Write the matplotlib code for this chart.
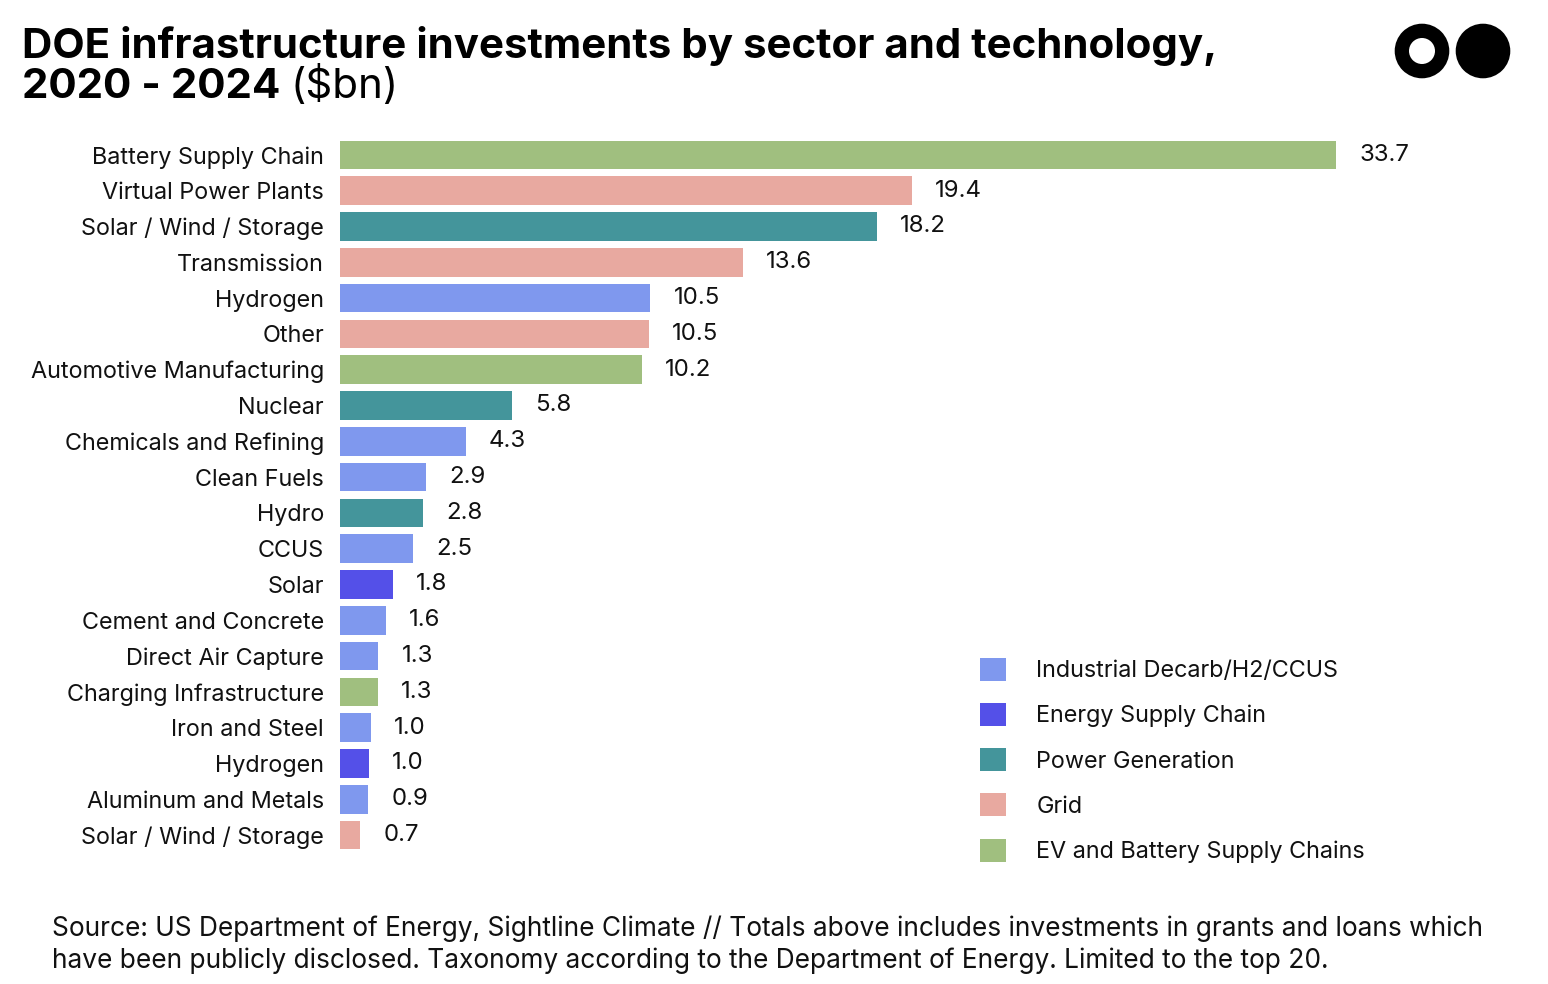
import matplotlib
matplotlib.use("Agg")
import matplotlib.pyplot as plt
from matplotlib.patches import Circle, Patch

plt.rcParams['font.family'] = ['Inter', 'DejaVu Sans']

W = 1548
H = 984

categories = ["Battery Supply Chain", "Virtual Power Plants", "Solar / Wind / Storage", "Transmission",
              "Hydrogen", "Other", "Automotive Manufacturing", "Nuclear", "Chemicals and Refining",
              "Clean Fuels", "Hydro", "CCUS", "Solar", "Cement and Concrete", "Direct Air Capture",
              "Charging Infrastructure", "Iron and Steel", "Hydrogen", "Aluminum and Metals",
              "Solar / Wind / Storage"]
values = [33.7, 19.35, 18.17, 13.63, 10.5, 10.45, 10.2, 5.82, 4.26, 2.91, 2.81, 2.47, 1.79, 1.56,
          1.30, 1.28, 1.04, 0.98, 0.95, 0.68]
value_labels = ["33.7", "19.4", "18.2", "13.6", "10.5", "10.5", "10.2", "5.8", "4.3", "2.9", "2.8", "2.5",
                "1.8", "1.6", "1.3", "1.3", "1.0", "1.0", "0.9", "0.7"]
sectors = ["ev", "grid", "power", "grid", "ind", "grid", "ev", "power", "ind", "ind", "power", "ind",
           "supply", "ind", "ind", "ev", "ind", "supply", "ind", "grid"]

colors = {"ind": "#7F98EE", "supply": "#5450E8", "power": "#44959B", "grid": "#E8A9A0", "ev": "#A0BF7F"}
legend_keys = ["ind", "supply", "power", "grid", "ev"]
legend_names = ["Industrial Decarb/H2/CCUS", "Energy Supply Chain", "Power Generation", "Grid",
                "EV and Battery Supply Chains"]

TEXT = "#111111"
FS = 16.85

fig = plt.figure(figsize=(W / 100, H / 100), dpi=100)
fig.patch.set_facecolor("white")

# axes placed by pixel, 29.56 px per unit and 35.8 px per bar
ax = fig.add_axes([340 / W, 1 - 853 / H, 1160 / W, 716 / H])
ypos = list(range(len(values)))
ax.barh(ypos, values, height=0.8, color=[colors[s] for s in sectors])
ax.set_xlim(0, 1160 / 29.56)
ax.set_ylim(len(values) - 0.5, -0.5)
ax.set_yticks(ypos)
ax.set_yticklabels(categories, fontsize=FS, color=TEXT)
ax.tick_params(axis="y", length=0, pad=11.5)
ax.set_xticks([])
for s in ax.spines.values():
    s.set_visible(False)

for y, v, l in zip(ypos, values, value_labels):
    ax.annotate(l, (v, y), xytext=(16.7, 0), textcoords="offset points", va="center", ha="left",
                fontsize=17.3, color=TEXT)

handles = [Patch(facecolor=colors[k], label=n) for k, n in zip(legend_keys, legend_names)]
leg = ax.legend(handles=handles, loc="lower left", bbox_to_anchor=(973 / W, 1 - 870 / H),
                bbox_transform=fig.transFigure, frameon=False, fontsize=FS, handlelength=1.13,
                handleheight=1.13, handletextpad=1.27, labelspacing=0.89, borderpad=0.3, borderaxespad=0)
for t in leg.get_texts():
    t.set_color(TEXT)

# title, the second line has a bold and a regular part
fig.text(21.5 / W, 1 - 58 / H, "DOE infrastructure investments by sector and technology,",
         fontsize=30.25, fontweight="bold", color="black", va="baseline")
t2 = fig.text(21.5 / W, 1 - 98 / H, "2020 - 2024", fontsize=30.25, fontweight="bold", color="black", va="baseline")
fig.canvas.draw()
bb = t2.get_window_extent()
fig.text((bb.x1 + 11) / W, 1 - 98 / H, "($bn)", fontsize=30.25, fontweight="normal", color="black", va="baseline")

fig.text(52 / W, 1 - 936 / H, "Source: US Department of Energy, Sightline Climate // Totals above includes investments in grants and loans which",
         fontsize=18.95, color=TEXT, va="baseline")
fig.text(52 / W, 1 - 968 / H, "have been publicly disclosed. Taxonomy according to the Department of Energy. Limited to the top 20.",
         fontsize=18.95, color=TEXT, va="baseline")

# logo
logo = fig.add_axes([0, 0, 1, 1], facecolor="none")
logo.set_xlim(0, W)
logo.set_ylim(H, 0)
logo.axis("off")
logo.add_patch(Circle((1422, 51), 27.3, color="black", lw=0))
logo.add_patch(Circle((1422, 51), 13, color="white", lw=0))
logo.add_patch(Circle((1483, 51), 27.3, color="black", lw=0))

fig.savefig("out.png", dpi=100)
